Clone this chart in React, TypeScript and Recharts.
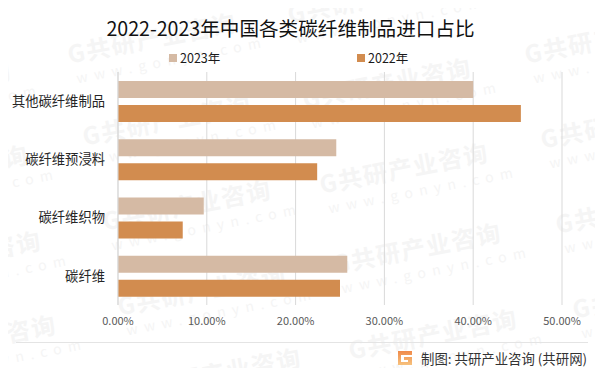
import { Bar, BarChart, CartesianGrid, Legend, XAxis, YAxis } from 'recharts'

const categories = ['其他碳纤维制品', '碳纤维预浸料', '碳纤维织物', '碳纤维']
const values2023 = [40.0, 24.58, 9.66, 25.82]
const values2022 = [45.37, 22.43, 7.29, 25.0]
const xTicks = [0, 10, 20, 30, 40, 50]

const data = categories.map((name, i) => ({
  name,
  y2023: values2023[i],
  y2022: values2022[i],
}))

const FONT = '"Noto Sans CJK SC", "Noto Sans", sans-serif'
const COLOR_2023 = '#d5baa4'
const COLOR_2022 = '#d28c4f'

// background watermark, repeated across the page
const Watermark = ({ x, y }: { x: number; y: number }) => (
  <div
    style={{
      position: 'absolute',
      left: x,
      top: y,
      transform: 'rotate(-11deg)',
      transformOrigin: 'left top',
      color: '#f5f5f5',
      whiteSpace: 'nowrap',
      fontFamily: FONT,
    }}
  >
    <div style={{ fontSize: 24, fontWeight: 700, letterSpacing: 1.5, lineHeight: '28px' }}>
      G共研产业咨询
    </div>
    <div style={{ fontSize: 14, letterSpacing: 6.5, lineHeight: '18px', marginLeft: 4, marginTop: 2 }}>
      www.gonyn.com
    </div>
  </div>
)

const watermarkSpots = [
  [-160, 88],
  [-143, 172],
  [-130, 258],
  [-115, 342],
  [65, 40],
  [80, 122],
  [100, 207],
  [115, 292],
  [130, 375],
  [285, 0],
  [300, 85],
  [317, 170],
  [330, 250],
  [346, 336],
  [522, 40],
  [538, 125],
  [553, 210],
  [570, 295],
]

const LegendRow = () => (
  <div style={{ position: 'relative', height: 16, fontFamily: FONT, fontSize: 12.5, color: '#1a1a1a' }}>
    {[
      { label: '2023年', color: COLOR_2023, left: 169 },
      { label: '2022年', color: COLOR_2022, left: 357 },
    ].map((item) => (
      <div key={item.label} style={{ position: 'absolute', left: item.left, top: 0, display: 'flex', alignItems: 'center' }}>
        <span style={{ width: 8, height: 8, background: item.color, marginRight: 3 }} />
        <span>{item.label}</span>
      </div>
    ))}
  </div>
)

const Logo = () => (
  <span
    style={{
      position: 'relative',
      display: 'block',
      width: 14,
      height: 14,
      marginRight: 9,
      background: 'linear-gradient(180deg, #f08a4a, #f7c27e)',
    }}
  >
    <span style={{ position: 'absolute', left: 3, top: 4, width: 11, height: 2, background: '#fff' }} />
    <span style={{ position: 'absolute', left: 3, top: 6, width: 3, height: 5, background: '#fff' }} />
    <span style={{ position: 'absolute', left: 3, top: 9, width: 7, height: 2, background: '#fff' }} />
  </span>
)

export default function App() {
  return (
    <div style={{ position: 'relative', width: 603, height: 376, margin: -8, overflow: 'hidden', background: '#fff' }}>
      {watermarkSpots.map(([x, y]) => (
        <Watermark key={`${x}-${y}`} x={x} y={y} />
      ))}
      <div
        style={{
          position: 'absolute',
          left: 0,
          top: 14,
          width: 581,
          textAlign: 'center',
          fontFamily: FONT,
          fontSize: 19.6,
          lineHeight: '28px',
          color: '#111',
        }}
      >
        2022-2023年中国各类碳纤维制品进口占比
      </div>
      <div style={{ position: 'absolute', left: 0, top: 0 }}>
        <BarChart
          width={603}
          height={376}
          data={data}
          layout='vertical'
          margin={{ top: 56, right: 41, bottom: 41, left: 0 }}
          barSize={17}
          barGap={7}
          style={{ fontFamily: FONT }}
        >
          <CartesianGrid horizontal={false} stroke='#d9d9d9' />
          <XAxis
            type='number'
            domain={[0, 50]}
            ticks={xTicks}
            height={30}
            axisLine={false}
            tickLine={false}
            tickMargin={6}
            tickFormatter={(v: number) => `${v.toFixed(2)}%`}
            tick={{ fontSize: 11, fill: '#595959' }}
          />
          <YAxis
            type='category'
            dataKey='name'
            width={118}
            axisLine={{ stroke: '#d9d9d9' }}
            tickLine={false}
            tickMargin={7}
            tick={{ fontSize: 13.3, fill: '#262626' }}
          />
          <Legend
            verticalAlign='top'
            content={() => <LegendRow />}
            wrapperStyle={{ top: 48, left: 0, width: 603 }}
          />
          <Bar dataKey='y2023' name='2023年' fill={COLOR_2023} isAnimationActive={false} />
          <Bar dataKey='y2022' name='2022年' fill={COLOR_2022} isAnimationActive={false} />
        </BarChart>
      </div>
      <div style={{ position: 'absolute', left: 16, top: 342, width: 572, height: 1, background: '#e4e4e4' }} />
      <div
        style={{
          position: 'absolute',
          left: 398,
          top: 350,
          display: 'flex',
          alignItems: 'center',
          fontFamily: FONT,
          fontSize: 13.4,
          lineHeight: '16px',
          color: '#333',
          whiteSpace: 'nowrap',
        }}
      >
        <Logo />
        制图: 共研产业咨询 (共研网)
      </div>
    </div>
  )
}
